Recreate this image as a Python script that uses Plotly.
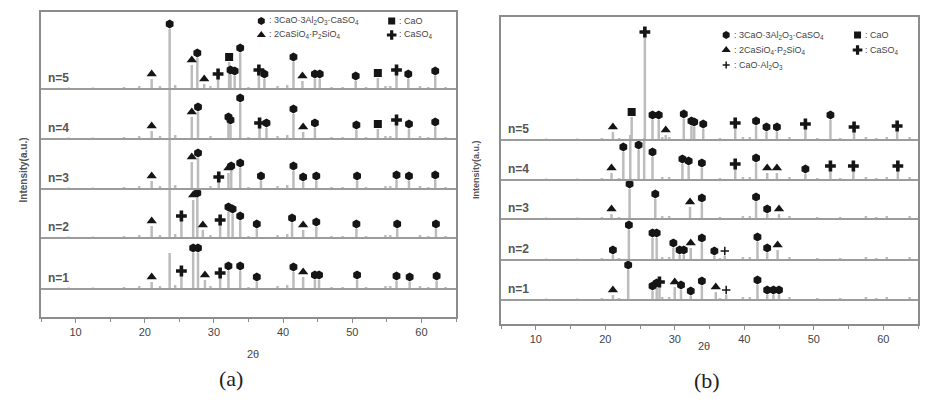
import plotly.graph_objects as go

# ---------------- data ----------------
TWO_THETA_RANGE = [5, 65]
TICK_VALUES = [10, 20, 30, 40, 50, 60]
N_LABELS = ["n=1", "n=2", "n=3", "n=4", "n=5"]

# stacking offsets (a.u.) of the five patterns in each panel
A_OFFSETS = [28, 79, 128, 178, 228]
B_OFFSETS = [24, 64, 105, 144, 184]

# peaks: (2theta, intensity above baseline, phase)  phase: Y ye'elimite, O CaO, S silicate, A CaSO4, M CaO.Al2O3, "" none
A_N1 = [(21.0, 7, "S"), (23.6, 36, ""), (25.3, 13, "A"), (27.0, 36, "Y"), (27.7, 36, "Y"), (28.7, 9, "S"),
        (30.9, 11, "A"), (32.1, 18, "Y"), (33.8, 18, "Y"), (36.2, 7, "Y"), (41.5, 17, "Y"), (42.9, 12, "S"),
        (44.6, 9, "Y"), (45.2, 9, "Y"), (50.7, 9, "Y"), (56.4, 8, "Y"), (58.3, 7, "Y"), (62.2, 8, "Y")]
A_N2 = [(21.0, 12, "S"), (23.6, 48, ""), (25.3, 17, "A"), (27.0, 38, "S"), (27.6, 40, "Y"), (28.4, 8, "S"),
        (30.9, 13, "A"), (32.1, 26, "Y"), (32.7, 24, "Y"), (33.8, 17, "Y"), (36.2, 9, "Y"), (41.3, 15, "Y"),
        (42.9, 8, "S"), (44.8, 11, "Y"), (50.6, 9, "Y"), (56.5, 9, "Y"), (62.1, 9, "Y")]
A_N3 = [(21.0, 8, "S"), (23.6, 50, ""), (26.8, 27, "S"), (27.7, 31, "Y"), (30.7, 7, "A"), (32.1, 16, "S"),
        (32.5, 18, "Y"), (33.8, 21, "Y"), (36.8, 8, "Y"), (41.5, 18, "Y"), (42.9, 7, "Y"), (44.8, 8, "Y"),
        (50.7, 8, "Y"), (56.4, 9, "Y"), (58.2, 8, "Y"), (62.0, 9, "Y")]
A_N4 = [(21.0, 8, "S"), (23.6, 50, ""), (26.8, 22, "S"), (27.7, 27, "Y"), (32.1, 17, "Y"), (32.4, 14, "Y"),
        (33.8, 36, "Y"), (36.6, 11, "A"), (37.6, 11, "Y"), (41.5, 25, "Y"), (42.9, 7, "S"), (44.6, 11, "Y"),
        (50.6, 9, "Y"), (53.7, 10, "O"), (56.4, 14, "A"), (58.2, 10, "Y"), (62.0, 12, "Y")]
A_N5 = [(21.0, 10, "S"), (23.6, 60, "Y"), (26.8, 24, "S"), (27.6, 31, "Y"), (28.6, 5, "S"), (30.6, 10, "A"),
        (32.2, 27, "O"), (32.4, 14, "Y"), (33.0, 13, "Y"), (33.8, 36, "Y"), (36.5, 14, "A"), (37.3, 10, "Y"),
        (41.5, 27, "Y"), (42.8, 8, "S"), (44.6, 10, "Y"), (45.3, 10, "Y"), (50.5, 8, "Y"), (53.7, 11, "O"),
        (56.4, 14, "A"), (58.1, 10, "Y"), (62.0, 13, "Y")]

B_N1 = [(21.1, 5, "S"), (23.3, 30, "Y"), (26.8, 9, "Y"), (27.4, 12, "Y"), (27.8, 13, "A"), (30.0, 13, "S"),
        (30.9, 10, "Y"), (32.3, 4, "Y"), (33.9, 14, "Y"), (35.9, 8, "S"), (37.4, 5, "M"), (41.9, 15, "Y"),
        (43.3, 5, "Y"), (44.2, 5, "Y"), (45.0, 5, "Y")]
B_N2 = [(21.1, 5, "Y"), (23.4, 30, "Y"), (26.8, 22, "Y"), (27.4, 22, "Y"), (29.8, 12, "Y"), (30.7, 5, "Y"),
        (31.3, 5, "Y"), (32.3, 12, "S"), (33.9, 17, "Y"), (35.7, 4, "Y"), (37.2, 4, "M"), (41.9, 18, "Y"),
        (43.3, 7, "Y"), (44.8, 10, "S")]
B_N3 = [(20.9, 5, "S"), (23.5, 30, "Y"), (27.2, 20, "Y"), (32.2, 12, "S"), (33.9, 16, "Y"), (41.7, 17, "Y"),
        (43.3, 5, "Y"), (45.0, 5, "S")]
B_N4 = [(20.9, 7, "S"), (22.6, 28, "Y"), (23.6, 45, ""), (24.8, 30, "Y"), (25.6, 42, ""), (26.8, 23, "Y"),
        (31.1, 16, "Y"), (32.0, 14, "Y"), (33.9, 12, "Y"), (38.7, 11, "A"), (41.7, 17, "Y"), (43.3, 7, "S"),
        (44.7, 7, "S"), (48.8, 6, "Y"), (52.4, 9, "A"), (55.7, 9, "A"), (62.1, 9, "A")]
B_N5 = [(21.1, 8, "S"), (23.8, 23, "O"), (25.7, 103, "A"), (26.8, 20, "Y"), (27.7, 20, "Y"), (28.7, 5, "S"),
        (31.3, 21, "Y"), (32.4, 14, "Y"), (32.8, 13, "Y"), (34.1, 11, "Y"), (38.7, 12, "A"), (41.7, 14, "Y"),
        (43.2, 8, "Y"), (44.7, 8, "Y"), (48.8, 11, "A"), (52.4, 20, "Y"), (55.8, 8, "A"), (62.0, 9, "A")]

# small unlabeled reflections / noise common to each panel: (2theta, intensity)
MINOR_A = [(9.0, 1.5), (12.5, 1.5), (17.0, 2), (19.2, 3), (22.2, 3), (24.4, 4), (29.5, 3), (35.0, 2),
           (39.2, 3), (40.6, 4), (47.0, 2), (48.6, 2), (52.0, 2), (54.8, 3), (55.5, 3), (59.8, 3),
           (61.0, 2), (63.5, 2)]
MINOR_B = [(11.5, 1.5), (16.0, 1.5), (19.5, 2), (22.0, 2), (28.2, 3), (29.2, 3), (36.5, 2), (39.8, 3),
           (40.8, 3), (46.5, 3), (50.5, 2), (53.8, 2), (57.5, 3), (59.0, 2), (60.5, 3), (63.8, 3)]

LEGEND_A = [("Y", "3CaO·3Al<sub>2</sub>O<sub>3</sub>·CaSO<sub>4</sub>"), ("O", "CaO"),
            ("S", "2CaSiO<sub>4</sub>·P<sub>2</sub>SiO<sub>4</sub>"), ("A", "CaSO<sub>4</sub>")]
LEGEND_B = [("Y", "3CaO·3Al<sub>2</sub>O<sub>3</sub>·CaSO<sub>4</sub>"), ("O", "CaO"),
            ("S", "2CaSiO<sub>4</sub>·P<sub>2</sub>SiO<sub>4</sub>"), ("A", "CaSO<sub>4</sub>"),
            ("M", "CaO·Al<sub>2</sub>O<sub>3</sub>")]

# ---------------- styles ----------------
SYMBOL = {"Y": "hexagon", "O": "square", "S": "triangle-up", "A": "cross", "M": "cross-thin"}
SIZE = {"Y": 9, "O": 8, "S": 9, "A": 9, "M": 6}
PEAK_COLOR = "#bcbcbc"
BASE_COLOR = "#9c9c9c"
FRAME = "#8c8c8c"
TXT = "#444444"
MARK_GAP = 5

fig = go.Figure()


def add_pattern(peaks, base, minor, xa, ya):
    xs, ys = [], []
    for x, h, _ in peaks:
        xs += [x, x, None]
        ys += [base, base + h, None]
    for x, h in minor:
        xs += [x, x, None]
        ys += [base, base + h, None]
    fig.add_trace(go.Scatter(x=xs, y=ys, mode="lines", line=dict(color=PEAK_COLOR, width=2.5),
                             xaxis=xa, yaxis=ya, hoverinfo="skip", showlegend=False))
    for ph in SYMBOL:
        px = [x for x, h, p in peaks if p == ph]
        py = [base + h + MARK_GAP for x, h, p in peaks if p == ph]
        if not px:
            continue
        fig.add_trace(go.Scatter(x=px, y=py, mode="markers",
                                 marker=dict(symbol=SYMBOL[ph], size=SIZE[ph], color="#151515",
                                             line=dict(color="#151515", width=1.5 if ph == "M" else 0)),
                                 xaxis=xa, yaxis=ya, hoverinfo="skip", showlegend=False))


for pats, offs, minor, xa, ya in [([A_N1, A_N2, A_N3, A_N4, A_N5], A_OFFSETS, MINOR_A, "x", "y"),
                                  ([B_N1, B_N2, B_N3, B_N4, B_N5], B_OFFSETS, MINOR_B, "x2", "y2")]:
    for pk, base in zip(pats, offs):
        add_pattern(pk, base, minor, xa, ya)

shapes, annotations = [], []
for offs, xr, yr, lx in [(A_OFFSETS, "x domain", "y", 0.012), (B_OFFSETS, "x2 domain", "y2", 0.012)]:
    for base, lab in zip(offs, N_LABELS):
        shapes.append(dict(type="line", xref=xr, x0=0, x1=1, yref=yr, y0=base, y1=base,
                           line=dict(color=BASE_COLOR, width=2), layer="above"))
        annotations.append(dict(xref=xr, x=lx, yref=yr, y=base + 11, text="<b>" + lab + "</b>", showarrow=False,
                                xanchor="left", yanchor="middle",
                                font=dict(family="Liberation Sans", size=12, color="#555555")))


# legends (panel a: two rows; panel b: three rows)
def add_legend(items, xa, ya, col_x, rows_y):
    for i, (ph, label) in enumerate(items):
        col = i % 2 if i < 4 else 0
        row = i // 2
        mx = col_x[col]
        my = rows_y[row]
        fig.add_trace(go.Scatter(x=[mx], y=[my], mode="markers",
                                 marker=dict(symbol=SYMBOL[ph], size=SIZE[ph] - 1, color="#151515",
                                             line=dict(color="#151515", width=1.5 if ph == "M" else 0)),
                                 xaxis=xa, yaxis=ya, hoverinfo="skip", showlegend=False))
        annotations.append(dict(xref=xa, yref=ya, x=mx + 0.8, y=my, text=": " + label, showarrow=False,
                                xanchor="left", yanchor="middle",
                                font=dict(family="Liberation Sans", size=9, color=TXT)))


add_legend(LEGEND_A, "x", "y", [36.85, 55.7], [296, 282])
add_legend(LEGEND_B, "x2", "y2", [37.4, 56.3], [289, 274, 259])

# axis titles and captions
annotations += [
    dict(xref="paper", yref="paper", x=15 / 930, y=(406 - 170) / 406, text="<b>Intensity(a.u.)</b>", textangle=-90,
         showarrow=False, font=dict(family="Liberation Sans", size=10, color="#555555")),
    dict(xref="paper", yref="paper", x=476 / 930, y=(406 - 170) / 406, text="<b>Intensity(a.u.)</b>", textangle=-90,
         showarrow=False, font=dict(family="Liberation Sans", size=9, color="#555555")),
    dict(xref="paper", yref="paper", x=245 / 930, y=(406 - 362) / 406, text="2θ", showarrow=False,
         font=dict(family="Liberation Sans", size=11, color=TXT)),
    dict(xref="paper", yref="paper", x=712 / 930, y=(406 - 354) / 406, text="2θ", showarrow=False,
         font=dict(family="Liberation Sans", size=11, color=TXT)),
    dict(xref="paper", yref="paper", x=217 / 930, y=(406 - 393) / 406, text="(a)", showarrow=False,
         font=dict(family="Liberation Serif", size=22, color="#222")),
    dict(xref="paper", yref="paper", x=722 / 930, y=(406 - 395) / 406, text="(b)", showarrow=False,
         font=dict(family="Liberation Serif", size=22, color="#222")),
]

xcommon = dict(range=TWO_THETA_RANGE, tickvals=TICK_VALUES, showline=True, mirror=True, linecolor=FRAME,
               linewidth=2, ticks="outside", ticklen=4, tickcolor=FRAME, tickwidth=1,
               minor=dict(dtick=5, tick0=5, ticks="outside", ticklen=3, tickcolor=FRAME),
               tickfont=dict(family="Liberation Sans", size=11, color=TXT), showgrid=False, zeroline=False)
ycommon = dict(showline=True, mirror=True, linecolor=FRAME, linewidth=2, showticklabels=False, ticks="",
               showgrid=False, zeroline=False)

fig.update_layout(
    width=930, height=406, margin=dict(l=0, r=0, t=0, b=0),
    paper_bgcolor="white", plot_bgcolor="white", showlegend=False,
    xaxis=dict(domain=[41 / 930, 456 / 930], anchor="y", **xcommon),
    yaxis=dict(domain=[(406 - 317) / 406, (406 - 12) / 406], range=[0, 305], anchor="x", **ycommon),
    xaxis2=dict(domain=[501 / 930, 918 / 930], anchor="y2", **xcommon),
    yaxis2=dict(domain=[(406 - 324) / 406, (406 - 17) / 406], range=[0, 307], anchor="x2", **ycommon),
    shapes=shapes, annotations=annotations,
)

fig.write_html("out.html")
